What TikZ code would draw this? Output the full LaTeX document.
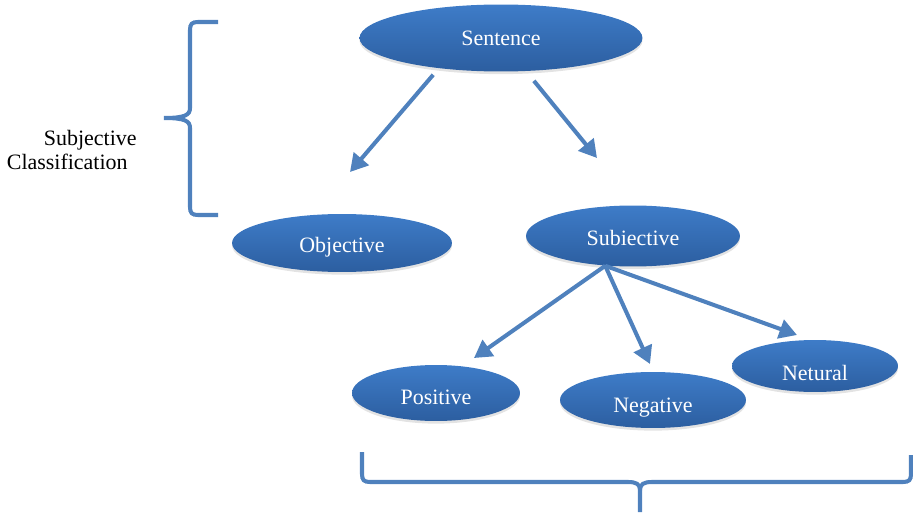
\documentclass[tikz,border=0pt]{standalone}
\usepackage{fontspec}
\setmainfont{Liberation Serif}
\usetikzlibrary{arrows.meta,shapes.geometric,shadows}
\definecolor{ovaltop}{RGB}{62,124,200}
\definecolor{ovalbot}{RGB}{44,94,160}
\definecolor{lineblue}{RGB}{79,129,189}
\newcommand{\lowtext}[2]{\raisebox{-#1}[\height][\depth]{#2}}

\begin{document}
\begin{tikzpicture}[x=0.02cm,y=-0.02cm,
    oval/.style={ellipse,inner sep=0pt,top color=ovaltop,bottom color=ovalbot,text=white,
      drop shadow={opacity=0.22,shadow xshift=0pt,shadow yshift=-1.5pt},
      font=\fontsize{12.5}{15}\selectfont},
    arr/.style={lineblue,line width=2.3pt,-{Triangle[length=10pt,width=11pt]}},
    brace/.style={lineblue,line width=2.3pt}]
  \useasboundingbox (0,0) rectangle (913,517);

  \node[oval,minimum width=5.66cm,minimum height=1.34cm] (sent) at (501,38) {Sentence};
  \node[oval,minimum width=4.4cm,minimum height=1.16cm] (obj) at (342,243) {\lowtext{0.08cm}{Objective}};
  \node[oval,minimum width=4.28cm,minimum height=1.22cm] (sub) at (633,236) {\lowtext{0.04cm}{Subiective}};
  \node[oval,minimum width=3.36cm,minimum height=1.12cm] (pos) at (436,393) {\lowtext{0.08cm}{Positive}};
  \node[oval,minimum width=3.72cm,minimum height=1.12cm] (neg) at (653,400) {\lowtext{0.16cm}{Negative}};
  \node[oval,minimum width=3.32cm,minimum height=1.04cm] (neut) at (815,366) {\lowtext{0.14cm}{Netural}};

  \coordinate (objend) at (350,172);
  \coordinate (subend) at (597,158);
  \coordinate (posend) at (474,358);
  \coordinate (negend) at (650,364);
  \coordinate (neutend) at (797,335);

  \draw[arr,shorten <=4.8pt] (sent.206) -- (objend);
  \draw[arr,shorten <=7pt] (sent.307) -- (subend);
  \draw[arr] (sub.227) -- (posend);
  \draw[arr] (sub.227) -- (negend);
  \draw[arr] (sub.227) -- (neutend);

  \draw[brace] (218,22) -- (198,22) .. controls (192,22) and (190,24) .. (190,30) -- (190,108)
    .. controls (190,115) and (185,118) .. (164,118) .. controls (185,118) and (190,121) .. (190,128)
    -- (190,207) .. controls (190,213) and (192,215) .. (198,215) -- (218,215);
  \node[align=right,anchor=east,inner sep=0pt,font=\fontsize{12.5}{14.2}\selectfont] (cls) at (137,150)
    {Subjective\\Classification\hspace*{0.18cm}};

  \draw[brace] (362,452) -- (362,474) .. controls (362,480) and (364,482) .. (370,482) -- (628,482)
    .. controls (636,482) and (640,484) .. (640,490) -- (640,512);
  \draw[brace] (640,490) .. controls (640,484) and (644,482) .. (652,482) -- (903,482)
    .. controls (909,482) and (911,480) .. (911,474) -- (911,455);
\end{tikzpicture}
\end{document}
